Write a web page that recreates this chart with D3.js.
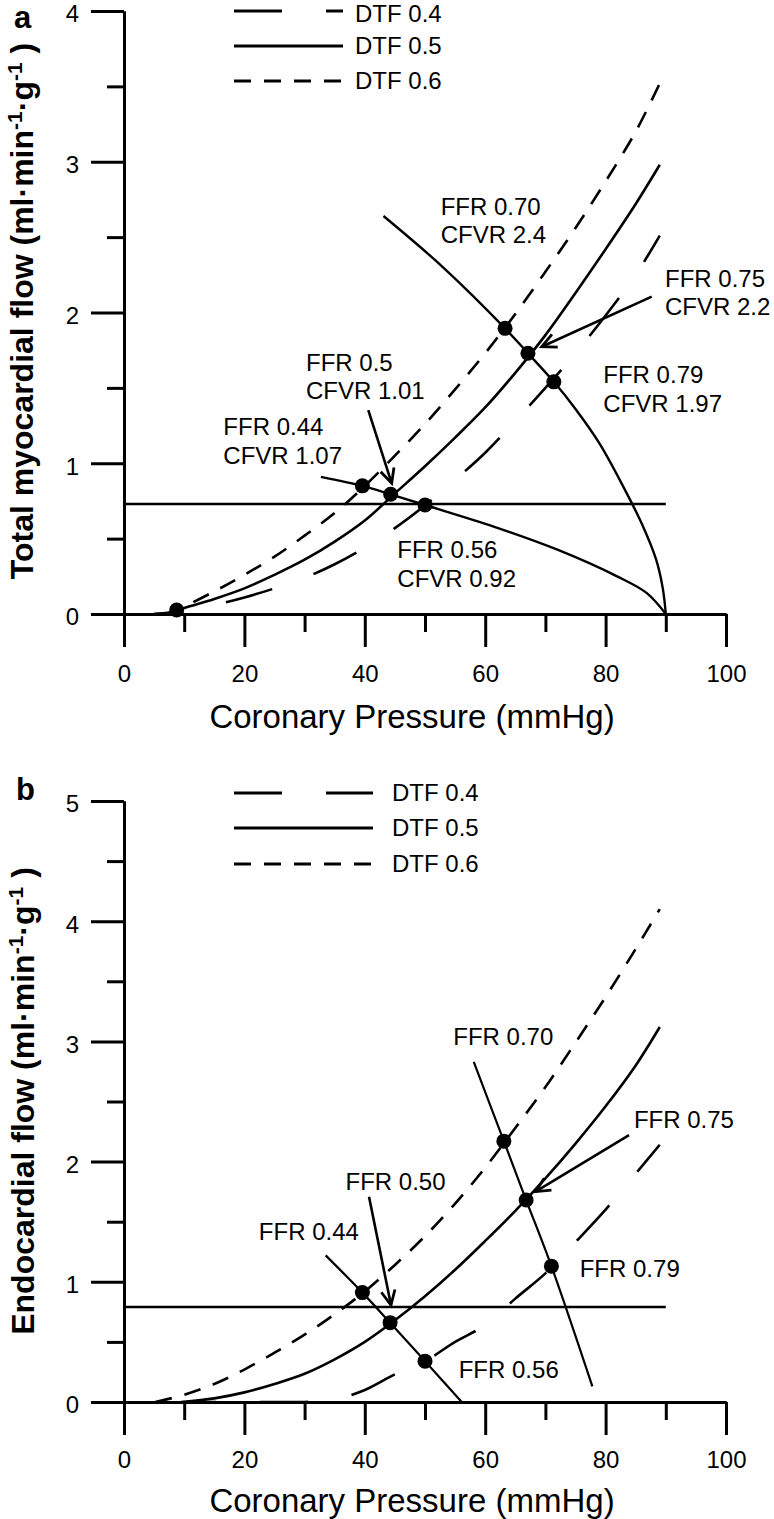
<!DOCTYPE html>
<html><head><meta charset="utf-8">
<script src="https://cdn.jsdelivr.net/npm/d3@7"></script>
<style>
html,body{margin:0;padding:0;background:#fff;}
svg{display:block;font-family:"Liberation Sans",Arial,Helvetica,sans-serif;}
</style></head><body>
<svg id="chart" width="774" height="1519"></svg>
<script>
// ---------- axis ticks ----------
const pressureMajorTicks = [0, 20, 40, 60, 80, 100];
const pressureMinorTicks = [10, 30, 50, 70, 90];
const aFlowMajorTicks = [0, 1, 2, 3, 4];
const aFlowMinorTicks = [0.5, 1.5, 2.5, 3.5];
const bFlowMajorTicks = [0, 1, 2, 3, 4, 5];
const bFlowMinorTicks = [0.5, 1.5, 2.5, 3.5, 4.5];
const legendLabels = ["DTF 0.4", "DTF 0.5", "DTF 0.6"];

// ---------- panel a : total myocardial flow ----------
const aDTF04 = [[5,0],[10,0.02],[15,0.06],[20,0.11],[25,0.17],[30,0.24],[35,0.33],[40,0.44],[45,0.57],[50,0.72],[55,0.89],[60,1.07],[65,1.28],[70,1.5],[75,1.73],[80,1.98],[85,2.25],[89,2.51]];
const aDTF05 = [[5,0],[8,0.01],[10,0.04],[15,0.1],[20,0.17],[25,0.26],[30,0.36],[35,0.48],[40,0.62],[45,0.8],[50,0.98],[55,1.17],[60,1.37],[65,1.6],[70,1.85],[75,2.13],[80,2.42],[85,2.72],[89,2.98]];
const aDTF06 = [[7,0],[10,0.05],[15,0.15],[20,0.26],[25,0.38],[30,0.52],[35,0.67],[40,0.85],[45,1.05],[50,1.26],[55,1.49],[60,1.73],[65,1.99],[70,2.27],[75,2.56],[80,2.87],[85,3.2],[89,3.52]];
const aIsoHigh = [[43.1,2.64],[53,2.3],[63.3,1.895],[67.1,1.73],[71.4,1.54],[75,1.36],[79,1.13],[83,0.84],[86,0.6],[88.4,0.36],[89.5,0.17],[90,0]];
const aIsoLow = [[32.7,0.91],[39.6,0.85],[44.3,0.794],[50,0.723],[61.4,0.58],[72.1,0.425],[81.9,0.25],[86.8,0.14],[90,0]];
const aPoints = [[8.75,0.027],[39.6,0.85],[44.3,0.794],[50,0.723],[63.3,1.895],[67.1,1.73],[71.4,1.54]];
const aThreshold = 0.73;
const aLabelText = [["FFR 0.70","CFVR 2.4"],["FFR 0.75","CFVR 2.2"],["FFR 0.79","CFVR 1.97"],["FFR 0.5","CFVR 1.01"],["FFR 0.44","CFVR 1.07"],["FFR 0.56","CFVR 0.92"]];
const aLabelAnchor = [[52.6,2.647],[89.87,2.171],[79.62,1.53],[30.23,1.614],[16.5,1.187],[45.4,0.371]];
const aArrows = [[[87.66,2.105],[69.39,1.773]], [[40.58,1.353],[44.47,0.867]]];

// ---------- panel b : endocardial flow ----------
const bDTF04 = [[10.5,0],[15,0],[20,0],[25,0],[30,0],[35,0.02],[40,0.1],[45,0.23],[50,0.34],[55,0.5],[60,0.64],[65,0.86],[70,1.07],[75,1.33],[80,1.6],[85,1.9],[89,2.14]];
const bDTF05 = [[9.5,0],[15,0.03],[20,0.08],[25,0.15],[30,0.235],[35,0.355],[40,0.5],[45,0.68],[50,0.88],[55,1.1],[60,1.34],[65,1.59],[70,1.86],[75,2.15],[80,2.46],[85,2.8],[89,3.12]];
const bDTF06 = [[5.2,0],[10,0.06],[15,0.15],[20,0.27],[25,0.41],[30,0.56],[35,0.73],[40,0.92],[45,1.14],[50,1.38],[55,1.65],[60,1.95],[65,2.28],[70,2.62],[75,2.99],[80,3.37],[85,3.77],[89,4.1]];
const bIsoHigh = [[58.1,2.83],[63.1,2.17],[66.8,1.68],[71,1.13],[77.8,0.13]];
const bIsoLow = [[33.5,1.22],[39.6,0.91],[44.2,0.66],[50,0.34],[56.1,0]];
const bPoints = [[39.6,0.91],[44.2,0.66],[50,0.34],[63.1,2.17],[66.8,1.68],[71,1.13]];
const bThreshold = 0.79;
const bLabelText = [["FFR 0.70"],["FFR 0.75"],["FFR 0.50"],["FFR 0.44"],["FFR 0.79"],["FFR 0.56"]];
const bLabelAnchor = [[54.7,2.97],[84.7,2.28],[36.8,1.764],[22.4,1.348],[75.7,1.042],[55.6,0.2]];
const bArrows = [[[83.89,2.221],[68.36,1.75]], [[40.7,1.708],[44.35,0.807]]];

// ---------- drawing ----------
const svg = d3.select("#chart");
const dashStyles = ["48,44", null, "17,13"];
const dashOffsets = [19, 0, 0];

function drawPanel(cfg) {
  const g = svg.append("g");
  const x = d3.scaleLinear().domain([0, 100]).range([124, 726]);
  const y = d3.scaleLinear().domain([0, cfg.yMax]).range([cfg.y0, cfg.yTop]);

  // axes
  const xMajor = d3.axisBottom(x).tickValues(pressureMajorTicks).tickSize(33).tickSizeOuter(0).tickPadding(cfg.xPad).tickFormat(d3.format("d"));
  const xMinor = d3.axisBottom(x).tickValues(pressureMinorTicks).tickSize(18).tickSizeOuter(0).tickFormat("");
  const yMajor = d3.axisLeft(y).tickValues(cfg.yMajor).tickSize(33).tickSizeOuter(0).tickPadding(12).tickFormat(d3.format("d"));
  const yMinor = d3.axisLeft(y).tickValues(cfg.yMinor).tickSize(17).tickSizeOuter(0).tickFormat("");
  [[xMajor,"x"],[xMinor,"x"],[yMajor,"y"],[yMinor,"y"]].forEach(([ax, k]) => {
    const a = g.append("g")
      .attr("transform", k === "x" ? `translate(0,${cfg.y0})` : `translate(124,0)`)
      .call(ax);
    a.selectAll("path,line").attr("stroke", "#000").attr("stroke-width", 3);
    a.selectAll("text").attr("font-size", 24).attr("fill", "#000").attr("font-family", "Liberation Sans, Arial, sans-serif");
    if (k === "y") a.selectAll("text").attr("dy", "0.45em");
  });

  const line = d3.line().x(d => x(d[0])).y(d => y(d[1])).curve(d3.curveCatmullRom.alpha(0.5));

  // threshold line
  g.append("path").datum([[0, cfg.threshold],[90, cfg.threshold]])
    .attr("d", d3.line().x(d => x(d[0])).y(d => y(d[1])))
    .attr("fill","none").attr("stroke","#000").attr("stroke-width",2.6);

  // DTF curves
  cfg.series.forEach((s, i) => {
    g.append("path").datum(s).attr("d", line)
      .attr("fill","none").attr("stroke","#000").attr("stroke-width",2.6)
      .attr("stroke-dasharray", dashStyles[i])
      .attr("stroke-dashoffset", dashOffsets[i]);
  });

  // iso-FFR curves
  [cfg.isoHigh, cfg.isoLow].forEach(s => {
    g.append("path").datum(s).attr("d", line)
      .attr("fill","none").attr("stroke","#000").attr("stroke-width",cfg.isoWidth);
  });

  // arrows
  cfg.arrows.forEach(([from, to]) => {
    const x1 = x(from[0]), y1 = y(from[1]), x2 = x(to[0]), y2 = y(to[1]);
    g.append("line").attr("x1",x1).attr("y1",y1).attr("x2",x2).attr("y2",y2)
      .attr("stroke","#000").attr("stroke-width",2.6);
    const ang = Math.atan2(y1 - y2, x1 - x2), L = 16, h = 0.45;
    const p1 = [x2 + L*Math.cos(ang + h), y2 + L*Math.sin(ang + h)];
    const p2 = [x2 + L*Math.cos(ang - h), y2 + L*Math.sin(ang - h)];
    g.append("path").attr("d", `M${p1}L${x2},${y2}L${p2}`)
      .attr("fill","none").attr("stroke","#000").attr("stroke-width",2.8).attr("stroke-linejoin","miter");
  });

  // points
  g.selectAll("circle.pt").data(cfg.points).join("circle").attr("class","pt")
    .attr("cx", d => x(d[0])).attr("cy", d => y(d[1])).attr("r", 7.5).attr("fill","#000");

  // annotations
  cfg.labelText.forEach((lines, i) => {
    const t = g.append("text").attr("x", x(cfg.labelAnchor[i][0])).attr("y", y(cfg.labelAnchor[i][1]))
      .attr("font-size", 24).attr("fill","#000");
    lines.forEach((ln, j) => t.append("tspan").attr("x", x(cfg.labelAnchor[i][0])).attr("dy", j === 0 ? 0 : 28.5).text(ln));
  });

  // legend
  legendLabels.forEach((lab, i) => {
    const ly = cfg.legendY[i];
    g.append("line").attr("x1", 234).attr("x2", cfg.legendX2).attr("y1", ly).attr("y2", ly)
      .attr("stroke","#000").attr("stroke-width",3).attr("stroke-dasharray", dashStyles[i]);
    g.append("text").attr("x", cfg.legendTextX).attr("y", ly).attr("dy", cfg.legendDy[i])
      .attr("font-size", 24).attr("fill","#000").text(lab);
  });

  // x title
  g.append("text").attr("x", 412).attr("y", cfg.y0 + cfg.xTitleOff).attr("text-anchor","middle")
    .attr("font-size", 33).attr("fill","#000").text("Coronary Pressure (mmHg)");

  // y title
  const yt = g.append("text").attr("transform", `translate(${cfg.yTitleX},${cfg.yTitleY}) rotate(-90)`)
    .attr("text-anchor","middle").attr("font-size", 32).attr("font-weight","bold").attr("fill","#000");
  yt.append("tspan").text(cfg.yTitle + " (ml·min");
  yt.append("tspan").attr("font-size", 21).attr("dy", -11).text("-1");
  yt.append("tspan").attr("dy", 11).text("·g");
  yt.append("tspan").attr("font-size", 21).attr("dy", -11).text("-1");
  yt.append("tspan").attr("dy", 11).text(" )");

  // panel letter
  g.append("text").attr("x", cfg.letterX).attr("y", cfg.letterY).attr("font-size", 31)
    .attr("font-weight","bold").attr("fill","#000").text(cfg.letter);
}

drawPanel({
  yMax: 4, y0: 614, yTop: 11, yMajor: aFlowMajorTicks, yMinor: aFlowMinorTicks, xPad: 18,
  threshold: aThreshold, series: [aDTF04, aDTF05, aDTF06], isoHigh: aIsoHigh, isoLow: aIsoLow, isoWidth: 2.4,
  arrows: aArrows, points: aPoints, labelText: aLabelText, labelAnchor: aLabelAnchor,
  legendY: [11, 46, 81], legendDy: ["0.46em","0.35em","0.35em"], legendX2: 343, legendTextX: 355, xTitleOff: 114,
  yTitle: "Total myocardial flow", yTitleX: 33, yTitleY: 311, letter: "a", letterX: 14, letterY: 28
});
drawPanel({
  yMax: 5, y0: 1402, yTop: 801, yMajor: bFlowMajorTicks, yMinor: bFlowMinorTicks, xPad: 16,
  threshold: bThreshold, series: [bDTF04, bDTF05, bDTF06], isoHigh: bIsoHigh, isoLow: bIsoLow, isoWidth: 2.2,
  arrows: bArrows, points: bPoints, labelText: bLabelText, labelAnchor: bLabelAnchor,
  legendY: [793, 828, 864], legendDy: ["0.35em","0.35em","0.35em"], legendX2: 373, legendTextX: 392, xTitleOff: 110,
  yTitle: "Endocardial flow", yTitleX: 34, yTitleY: 1101, letter: "b", letterX: 16, letterY: 800
});
</script>
</body></html>
